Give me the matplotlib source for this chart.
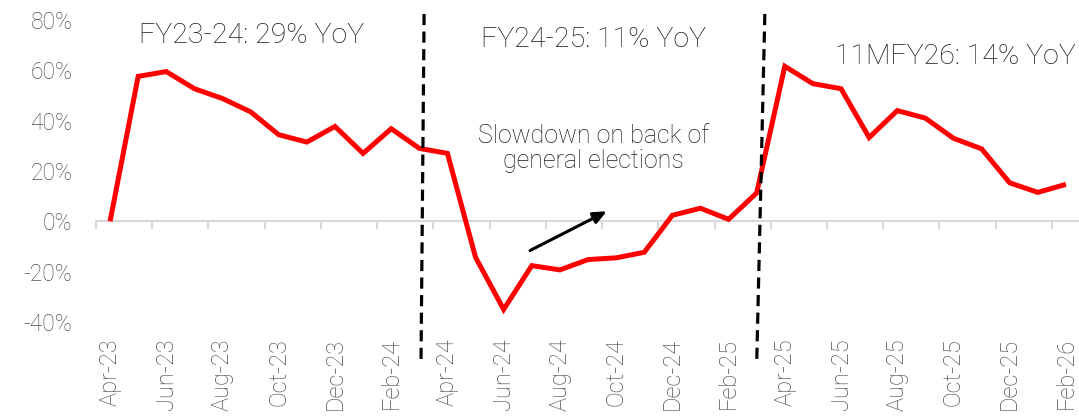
"""Monthly YoY growth with fiscal-year markers"""

import matplotlib
matplotlib.use("Agg")
import matplotlib.pyplot as plt
from matplotlib.ticker import FuncFormatter, FixedLocator

plt.rcParams["font.family"] = ["Roboto", "DejaVu Sans"]

MONTHS = [
    "Apr-23", "May-23", "Jun-23", "Jul-23", "Aug-23", "Sep-23", "Oct-23",
    "Nov-23", "Dec-23", "Jan-24", "Feb-24", "Mar-24",
    "Apr-24", "May-24", "Jun-24", "Jul-24", "Aug-24", "Sep-24", "Oct-24",
    "Nov-24", "Dec-24", "Jan-25", "Feb-25", "Mar-25",
    "Apr-25", "May-25", "Jun-25", "Jul-25", "Aug-25", "Sep-25", "Oct-25",
    "Nov-25", "Dec-25", "Jan-26", "Feb-26",
]
YOY = [
    0.0, 57.6, 59.5, 52.7, 48.8, 43.5, 34.4, 31.5, 37.7, 27.0, 36.8, 29.0,
    27.0, -14.3, -35.0, -17.6, -19.3, -15.2, -14.5, -12.3, 2.4, 5.2, 0.8, 11.3,
    61.6, 54.7, 52.7, 33.3, 44.0, 41.0, 33.0, 28.8, 15.3, 11.5, 14.7,
]

# fiscal-year headline labels: (x index, y value, text)
FY_LABELS = [
    (5.05, 74.0, "FY23-24: 29% YoY"),
    (17.2, 72.4, "FY24-25: 11% YoY"),
    (30.05, 65.6, "11MFY26: 14% YoY"),
]
# split lines between fiscal years: (x top, x bottom)
SPLITS = [(11.17, 11.06), (23.29, 23.0)]
SPLIT_Y = (82.4, -56.4)

NOTE = "Slowdown on back of\ngeneral elections"
NOTE_XY = (17.2, 28.8)
ARROW_FROM = (14.94, -11.6)
ARROW_TO = (17.67, 4.0)

RED = "#ff0000"
GREY_TXT = "#505050"
GREY_AX = "#d9d9d9"


def main() -> None:
    fig = plt.figure(figsize=(10.79, 4.17), dpi=100)
    ax = fig.add_axes([96 / 1079, 1 - 322 / 417, 984 / 1079, 302 / 417])

    x = list(range(len(MONTHS)))
    ax.plot(x, YOY, color=RED, linewidth=3.6, solid_joinstyle="miter",
            solid_capstyle="butt", zorder=3)

    ax.set_xlim(-0.5, len(MONTHS) - 0.5)
    ax.set_ylim(-40, 80)
    ax.set_yticks(range(-40, 81, 20))
    ax.yaxis.set_major_formatter(FuncFormatter(lambda v, _: f"{v:.0f}%"))
    ax.tick_params(axis="y", length=0, pad=17, labelsize=16.5,
                   labelcolor=GREY_TXT)
    for lab in ax.get_yticklabels():
        lab.set_fontweight("light")

    # axis line at zero, labels pushed to the bottom
    for s in ("top", "right", "left"):
        ax.spines[s].set_visible(False)
    ax.spines["bottom"].set_position(("data", 0))
    ax.spines["bottom"].set_color(GREY_AX)
    ax.spines["bottom"].set_linewidth(1.5)

    ax.set_xticks(x[::2])
    ax.set_xticklabels(MONTHS[::2], rotation=90, fontsize=17, color=GREY_TXT,
                       fontweight="light")
    ax.xaxis.set_minor_locator(FixedLocator([i - 0.5 for i in x[::2]]))
    ax.tick_params(axis="x", which="major", length=0, pad=84)
    ax.tick_params(axis="x", which="minor", length=6, width=1.5,
                   color=GREY_AX, direction="out")

    for xt, xb in SPLITS:
        ax.plot([xt, xb], SPLIT_Y, color="black", linewidth=2.3,
                linestyle=(0, (3.5, 2)), clip_on=False, zorder=4)

    for xi, yi, txt in FY_LABELS:
        ax.text(xi, yi, txt, ha="center", va="center", fontsize=20.5,
                color="#1a1a1a", fontweight="light")

    ax.text(*NOTE_XY, NOTE, ha="center", va="center", fontsize=18,
            color="#1a1a1a", fontweight="light", linespacing=1.05)
    ax.annotate("", xy=ARROW_TO, xytext=ARROW_FROM,
                arrowprops=dict(arrowstyle="-|>,head_length=0.8,head_width=0.35",
                                color="black", linewidth=2.2,
                                shrinkA=0, shrinkB=0))

    fig.savefig("out.png", dpi=100)
    plt.close(fig)


if __name__ == "__main__":
    main()
